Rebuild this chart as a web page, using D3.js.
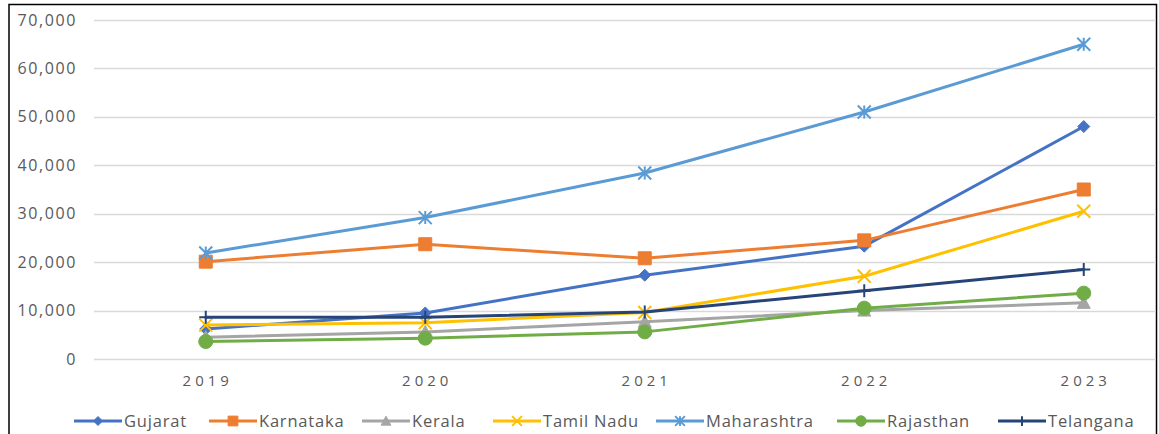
<!DOCTYPE html>
<html><head><meta charset="utf-8">
<script src="https://cdn.jsdelivr.net/npm/d3@7"></script>
<style>body{margin:0;background:#fff}svg{display:block}text{font-family:"Open Sans",sans-serif}</style>
</head><body>
<svg id="c" width="1159" height="434"></svg>
<script>
const years = ["2019","2020","2021","2022","2023"];
const yTicks = [0,10000,20000,30000,40000,50000,60000,70000];
const names = ["Gujarat","Karnataka","Kerala","Tamil Nadu","Maharashtra","Rajasthan","Telangana"];
const colors = ["#4472C4","#ED7D31","#A5A5A5","#FFC000","#5B9BD5","#70AD47","#264478"];
const markers = ["diamond","square","triangle","x","asterisk","circle","plus"];
const gujarat = [6200,9500,17300,23300,48000];
const karnataka = [20100,23700,20800,24500,35000];
const kerala = [4500,5600,7700,10000,11600];
const tamilNadu = [7000,7500,9600,17100,30500];
const maharashtra = [21900,29200,38400,51000,65000];
const rajasthan = [3600,4300,5600,10500,13600];
const telangana = [8600,8600,9700,14100,18500];
const seriesVals = [gujarat,karnataka,kerala,tamilNadu,maharashtra,rajasthan,telangana];

const svg = d3.select("#c");
const x = d3.scaleBand().domain(years).range([96, 96+5*219.5]);
const y = d3.scaleLinear().domain([0,70000]).range([359,20]);
const gridRight = 1156;

// border
svg.append("rect").attr("x",9).attr("y",4.5).attr("width",1147.5).attr("height",440)
  .attr("fill","none").attr("stroke","#000").attr("stroke-width",1.5);

// gridlines
svg.append("g").selectAll("line").data(yTicks).join("line")
  .attr("x1",94).attr("x2",gridRight).attr("y1",d=>Math.round(y(d))+0.5).attr("y2",d=>Math.round(y(d))+0.5)
  .attr("stroke","#D9D9D9").attr("stroke-width",1.5);

// y axis labels
const yAxis = d3.axisLeft(y).tickValues(yTicks).tickFormat(d3.format(",")).tickSize(0).tickPadding(0);
const gy = svg.append("g").attr("transform","translate(77,0)").call(yAxis);
gy.select(".domain").remove();
gy.selectAll("text").attr("fill","#595959").style("font-size","16px").style("letter-spacing","1.6px")
  .style("font-family","'Open Sans',sans-serif");

// x axis labels
const xAxis = d3.axisBottom(x).tickSize(0).tickPadding(0);
const gx = svg.append("g").attr("transform","translate(0,375)").call(xAxis);
gx.select(".domain").remove();
gx.selectAll("text").attr("fill","#595959").style("font-size","15px").style("letter-spacing","4px")
  .attr("dx","2").style("font-family","'Open Sans',sans-serif");

function markerPath(type, s){
  const h = s/2;
  switch(type){
    case "diamond": return `M0,${-h}L${h},0L0,${h}L${-h},0Z`;
    case "square": return `M${-h},${-h}H${h}V${h}H${-h}Z`;
    case "triangle": return `M0,${-h}L${h},${h*0.85}L${-h},${h*0.85}Z`;
    case "circle": return d3.symbol(d3.symbolCircle, Math.PI*h*h)();
    case "x": return `M${-h},${-h}L${h},${h}M${h},${-h}L${-h},${h}`;
    case "plus": return `M${-h},0H${h}M0,${-h}V${h}`;
    case "asterisk": return `M${-h},${-h}L${h},${h}M${h},${-h}L${-h},${h}M0,${-h}V${h}`;
  }
}
function drawMarker(g, type, color, s){
  const filled = ["diamond","square","triangle","circle"].includes(type);
  g.append("path").attr("d", markerPath(type,s))
    .attr("fill", filled?color:"none").attr("stroke", color).attr("stroke-width", filled?1:2);
}
const sizes = {diamond:12, square:13, triangle:13, circle:14, x:13, plus:13, asterisk:13};

const line = d3.line().x((d,i)=>x(years[i])+x.bandwidth()/2).y(d=>y(d));
names.forEach((n,k)=>{
  const g = svg.append("g");
  g.append("path").datum(seriesVals[k]).attr("d", line).attr("fill","none")
    .attr("stroke", colors[k]).attr("stroke-width",3).attr("stroke-linejoin","round").attr("stroke-linecap","round");
  seriesVals[k].forEach((v,i)=>{
    const mg = g.append("g").attr("transform",`translate(${x(years[i])+x.bandwidth()/2},${y(v)})`);
    drawMarker(mg, markers[k], colors[k], sizes[markers[k]]);
  });
});

// legend
const legX = [74,209,362,493,656,837,998];
const lg = svg.append("g").attr("transform","translate(0,421)");
names.forEach((n,k)=>{
  const g = lg.append("g").attr("transform",`translate(${legX[k]},0)`);
  g.append("line").attr("x1",0).attr("x2",48).attr("y1",0).attr("y2",0).attr("stroke",colors[k]).attr("stroke-width",3);
  const mg = g.append("g").attr("transform","translate(24,0)");
  drawMarker(mg, markers[k], colors[k], sizes[markers[k]]*0.75);
  g.append("text").attr("x",50).attr("y",0).attr("dy","0.35em").attr("fill","#595959")
    .style("font-size","16.5px").style("letter-spacing","0.8px").text(n);
});
</script>
</body></html>
